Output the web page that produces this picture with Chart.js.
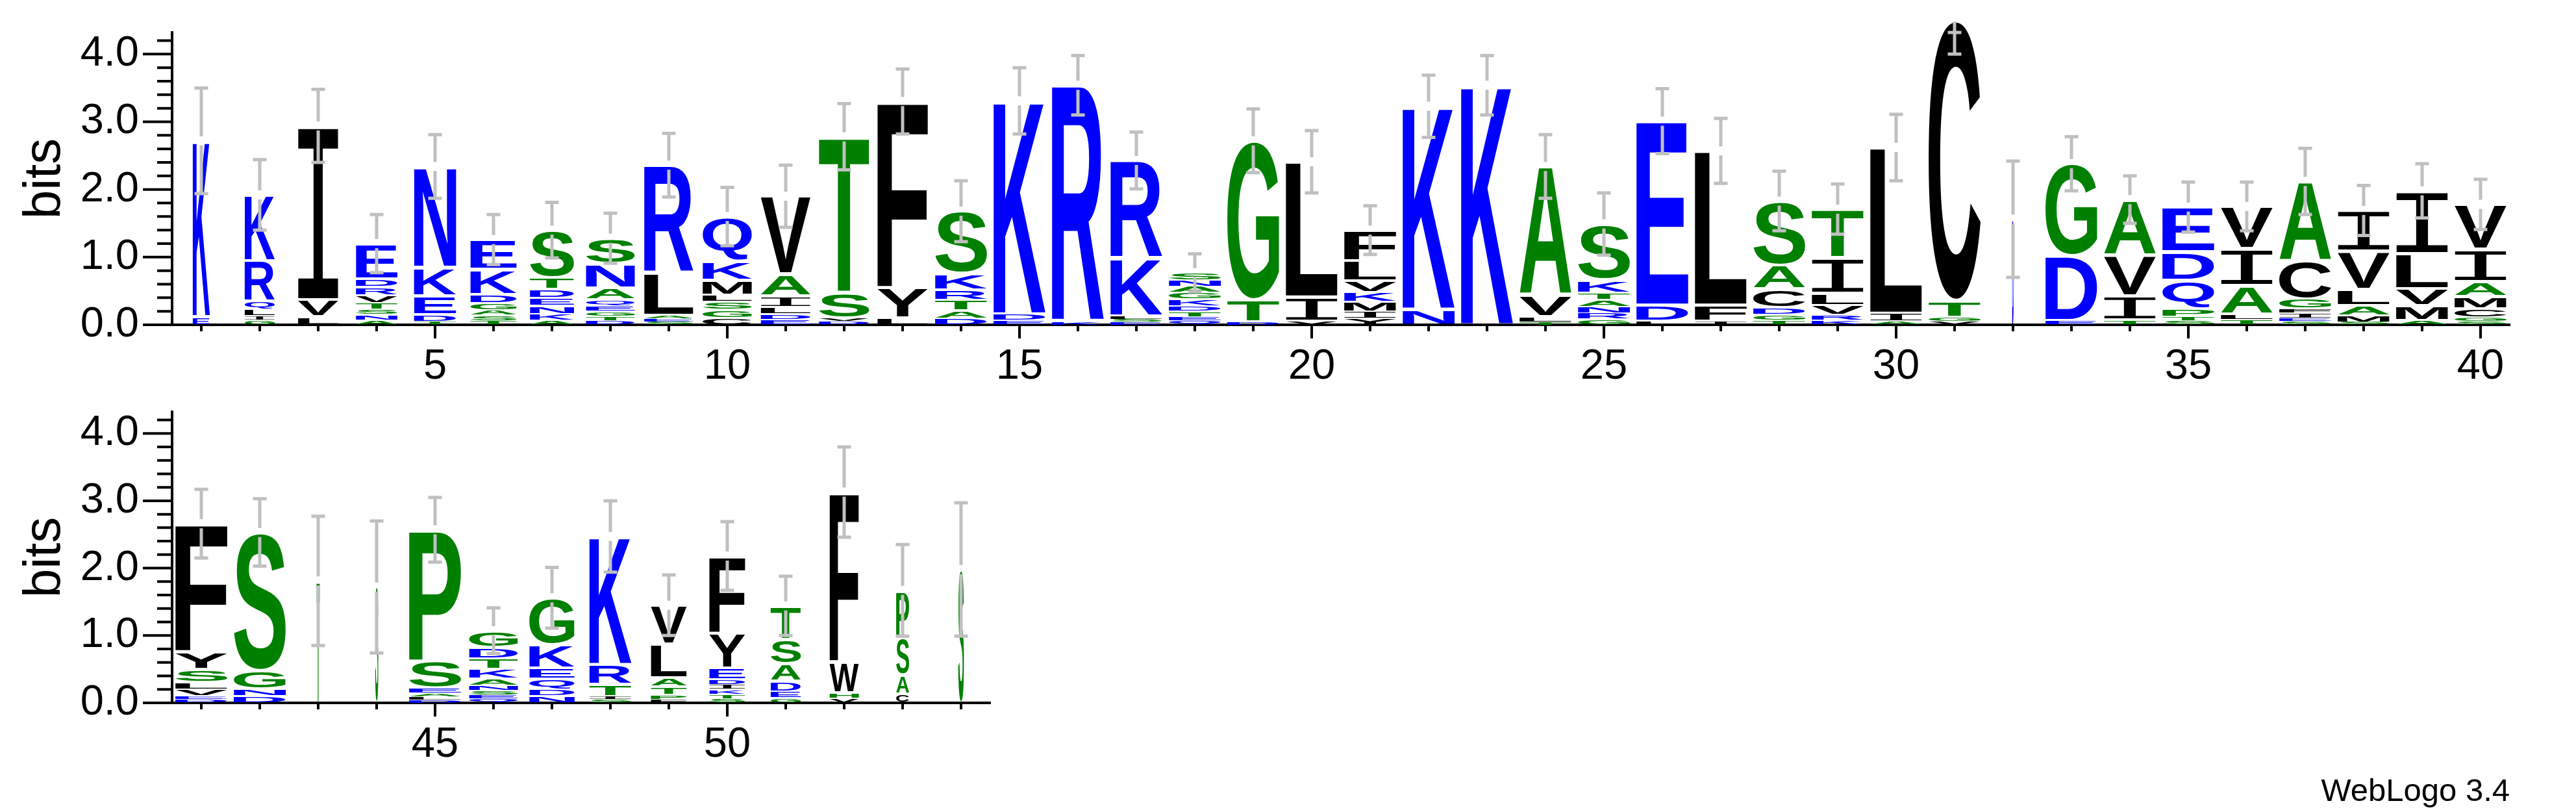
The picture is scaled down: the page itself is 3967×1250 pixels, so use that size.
<!DOCTYPE html>
<html><head><meta charset="utf-8">
<script src="https://cdn.jsdelivr.net/npm/chart.js@4.4.1/dist/chart.umd.min.js"></script>
<style>
html,body{margin:0;padding:0;background:#fff;}
#wrap{position:relative;width:3967px;height:1250px;background:#fff;overflow:hidden;}
canvas{position:absolute;left:0;}
</style></head><body>
<div id="wrap">
<canvas id="row1" width="3967" height="620" style="top:0;width:3967px;height:620px"></canvas>
<canvas id="row2" width="3967" height="630" style="top:620px;width:3967px;height:630px"></canvas>
</div>
<script>
const positions = Array.from({length: 54}, (_, i) => i + 1);
// letters of each stack, bottom -> top
const stackLetters = [
 "EK","GILQRK","LVI","ANSTVRDE","TDEKN","TSAGDKE","AKNEDTS","DTGEQANS","SEALR","CGSLMKQ",
 "EDLIAV","DVST","LYF","DATRKS","EDK","KR","ESLKR","QETDKGANS","DTG","VIL",
 "YIMKVLF","NK","K","TLVA","GRNATKS","LDE","IFL","TGDCAS","KRVLIT","AIL",
 "VGTC","D","EDG","TIVA","STPQDE","TLAIV","SEIFGCA","SMALVI","AMVLI","SGCMAIV",
 "DEVLSYF","DNGS","T","S","DLAESP","QESNAKTDG","NDQEKG","SITRK","FPTALV","STKIDEYF",
 "GEDAST","VHWF","CASP","S"
];
// letter heights in bits, same order
const stackHeights = [
 [0.12,2.60],[0.07,0.06,0.09,0.13,0.60,0.97],[0.12,0.25,2.57],[0.07,0.08,0.08,0.09,0.12,0.12,0.12,0.52],
 [0.05,0.10,0.28,0.42,1.49],[0.06,0.08,0.08,0.10,0.13,0.37,0.44],[0.07,0.09,0.12,0.12,0.13,0.17,0.70],
 [0.06,0.07,0.07,0.08,0.09,0.17,0.36,0.38],[0.04,0.05,0.05,0.62,1.60],[0.10,0.12,0.12,0.10,0.22,0.28,0.66],
 [0.08,0.08,0.10,0.17,0.32,1.15],[0.05,0.05,0.38,2.30],[0.10,0.45,2.75],[0.09,0.12,0.16,0.14,0.25,0.92],
 [0.07,0.09,3.15],[0.04,3.50],[0.04,0.04,0.05,0.85,1.45],[0.06,0.06,0.08,0.08,0.10,0.10,0.09,0.09,0.11],
 [0.04,0.33,2.35],[0.05,0.36,2.00],[0.09,0.10,0.15,0.14,0.17,0.30,0.45],[0.23,3.00],[3.54],
 [0.04,0.08,0.32,1.90],[0.08,0.09,0.10,0.10,0.10,0.20,0.82],[0.05,0.24,2.72],[0.05,0.24,2.28],
 [0.07,0.08,0.10,0.28,0.35,0.95],[0.07,0.08,0.14,0.18,0.52,0.72],[0.05,0.12,2.45],[0.05,0.06,0.25,4.14],
 [1.56],[0.06,0.96,1.36],[0.07,0.36,0.60,0.82],[0.06,0.06,0.12,0.42,0.42,0.66],[0.08,0.08,0.42,0.55,0.62],
 [0.05,0.05,0.07,0.07,0.14,0.56,1.18],[0.04,0.10,0.14,0.24,0.57,0.60],[0.06,0.22,0.25,0.52,0.93],
 [0.05,0.06,0.13,0.18,0.22,0.48,0.66],[0.05,0.05,0.10,0.10,0.20,0.26,1.90],[0.10,0.10,0.28,2.05],
 [1.81],[1.72],[0.04,0.05,0.05,0.08,0.40,1.95],[0.06,0.06,0.06,0.08,0.10,0.14,0.16,0.16,0.25],
 [0.10,0.10,0.16,0.16,0.34,0.70],[0.05,0.05,0.17,0.30,1.90],[0.05,0.07,0.12,0.13,0.50,0.58],
 [0.06,0.07,0.07,0.07,0.08,0.17,0.52,1.14],[0.07,0.10,0.15,0.26,0.36,0.50],[0.07,0.08,0.46,2.52],
 [0.13,0.28,0.56,0.70],[1.98]
];
// relative stack widths (fraction of non-gap sequences)
const stackWidths = [
 0.33,0.58,0.78,0.80,0.81,0.89,0.85,0.94,0.95,0.95,
 0.96,0.97,0.97,1,1,1,1,1,1,1,
 1,1,1,1,1,1,1,1,1,1,
 1,0.03,1,1,1,1,1,1,1,1,
 1,1,0.06,0.06,1,0.94,0.87,0.81,0.69,0.69,
 0.58,0.56,0.25,0.11
];
// error bar half-lengths in bits
const errorHalf = [
 0.78,0.52,0.54,0.43,0.47,0.37,0.41,0.37,0.47,0.43,
 0.46,0.49,0.48,0.45,0.49,0.44,0.42,0.28,0.47,0.46,
 0.36,0.46,0.44,0.47,0.46,0.48,0.48,0.44,0.37,0.49,
 0.50,0.86,0.40,0.35,0.37,0.36,0.49,0.37,0.40,0.37,
 0.51,0.50,0.96,0.98,0.48,0.34,0.45,0.53,0.45,0.51,
 0.44,0.67,0.68,0.99
];
const yTickValues = [0, 1, 2, 3, 4];
const Y_MAX = 4.32; // log2(20)

const FONT = '"Liberation Sans", Arial, Helvetica, sans-serif';
function colorOf(ch) {
  if ('RKDENQ'.includes(ch)) return '#0000FF';
  if ('SGHTAP'.includes(ch)) return '#008000';
  return '#000000';
}
const measureCache = {};
function glyphFont(ch) {
  return ch === 'I' ? 'normal 200px "Liberation Mono", "DejaVu Sans Mono", monospace'
                    : 'bold 200px "Liberation Sans", Arial, sans-serif';
}
function drawGlyph(ctx, ch, x, y, w, h) {
  if (w <= 0 || h <= 0) return;
  ctx.save();
  ctx.font = glyphFont(ch);
  ctx.textAlign = 'left';
  ctx.textBaseline = 'alphabetic';
  let m = measureCache[ch];
  if (!m) {
    const t = ctx.measureText(ch);
    m = measureCache[ch] = {l: t.actualBoundingBoxLeft, r: t.actualBoundingBoxRight,
                            a: t.actualBoundingBoxAscent, d: t.actualBoundingBoxDescent};
  }
  const gw = m.l + m.r, gh = m.a + m.d;
  ctx.translate(x, y);
  ctx.scale(w / gw, h / gh);
  ctx.fillStyle = colorOf(ch);
  ctx.fillText(ch, m.l, m.a);
  ctx.restore();
}

function zeroPad(s) { s.paddingTop = 0; s.paddingBottom = 0; s.paddingLeft = 0; s.paddingRight = 0; }

function makeRow(canvasId, from, to, lay) {
  const labels = positions.slice(from, to);
  const L = stackLetters.slice(from, to);
  const H = stackHeights.slice(from, to);
  const W = stackWidths.slice(from, to);
  const E = errorHalf.slice(from, to);
  const depth = Math.max(...L.map(s => s.length));
  const datasets = [];
  for (let k = 0; k < depth; k++) {
    datasets.push({
      data: H.map(h => (h[k] !== undefined ? h[k] : 0)),
      backgroundColor: 'rgba(0,0,0,0)', borderWidth: 0,
      categoryPercentage: 1, barPercentage: 80 / 90, stack: 'logo', clip: false
    });
  }
  const logoPlugin = {
    id: 'logo' + canvasId,
    afterDatasetsDraw(chart) {
      const ctx = chart.ctx;
      const xs = chart.scales.x, ys = chart.scales.y;
      for (let k = 0; k < depth; k++) {
        const meta = chart.getDatasetMeta(k);
        meta.data.forEach((el, i) => {
          const ch = L[i][k];
          if (!ch) return;
          const p = el.getProps(['x', 'y', 'base', 'width'], true);
          const top = Math.min(p.y, p.base), bot = Math.max(p.y, p.base);
          const h = bot - top;
          if (h <= 0) return;
          const pad = Math.min(2.5, h * 0.12);
          const w = p.width * W[i];
          drawGlyph(ctx, ch, p.x - w / 2, top + pad, w, h - 2 * pad);
        });
      }
      // error bars
      ctx.save();
      ctx.strokeStyle = '#C0C0C0';
      ctx.lineWidth = 5;
      ctx.lineCap = 'butt';
      labels.forEach((lab, i) => {
        const total = H[i].reduce((a, b) => a + b, 0);
        const xp = xs.getPixelForValue(i);
        const clipped = total + E[i] > Y_MAX;
        const yHi = ys.getPixelForValue(Math.min(total + E[i], Y_MAX));
        const yC = ys.getPixelForValue(total);
        const yLo = ys.getPixelForValue(total - E[i]);
        ctx.beginPath();
        if (clipped) {
          ctx.moveTo(xp, yC + 2); ctx.lineTo(xp, yLo);
        } else {
          ctx.moveTo(xp, yHi); ctx.lineTo(xp, yC - 7);
          ctx.moveTo(xp, yC + 7); ctx.lineTo(xp, yLo);
        }
        ctx.moveTo(xp - 10.5, yHi); ctx.lineTo(xp + 10.5, yHi);
        ctx.moveTo(xp - 10.5, yLo); ctx.lineTo(xp + 10.5, yLo);
        ctx.stroke();
      });
      ctx.restore();
    },
    afterDraw(chart) {
      const ctx = chart.ctx;
      const xs = chart.scales.x, ys = chart.scales.y;
      const ca = chart.chartArea;
      ctx.save();
      ctx.strokeStyle = '#000';
      ctx.lineWidth = 4;
      ctx.beginPath();
      for (let j = 0; j * 0.2 <= Y_MAX - 0.1; j++) {
        const v = j / 5;
        const yp = ys.getPixelForValue(v);
        const len = (j % 5 === 0) ? 45 : 23;
        ctx.moveTo(ca.left - len, yp); ctx.lineTo(ca.left, yp);
      }
      labels.forEach((lab, i) => {
        const xp = xs.getPixelForValue(i);
        const len = (lab % 5 === 0) ? 21 : 10;
        ctx.moveTo(xp, ca.bottom); ctx.lineTo(xp, ca.bottom + len);
      });
      ctx.stroke();
      if (lay.credit) {
        ctx.fillStyle = '#000';
        ctx.font = '49px ' + FONT;
        ctx.textAlign = 'right';
        ctx.textBaseline = 'alphabetic';
        ctx.fillText(lay.credit, 3865, lay.creditY);
      }
      ctx.restore();
    }
  };
  return new Chart(document.getElementById(canvasId), {
    type: 'bar',
    data: {labels: labels.map(String), datasets},
    options: {
      responsive: false, animation: false, events: [],
      layout: {padding: {top: lay.top, right: lay.right, left: 0, bottom: 0}},
      plugins: {legend: {display: false}, tooltip: {enabled: false}, title: {display: false}},
      scales: {
        x: {
          type: 'category', stacked: true, offset: true,
          grid: {display: false, drawTicks: false},
          border: {display: true, color: '#000', width: 4},
          ticks: {
            autoSkip: false, maxRotation: 0, minRotation: 0, padding: 26, color: '#000',
            font: {family: FONT, size: 65},
            callback(v, i) { const lab = labels[i]; return lab % 5 === 0 ? String(lab) : ''; }
          },
          afterFit(s) { s.height = lay.xh; zeroPad(s); }
        },
        y: {
          type: 'linear', stacked: true, min: 0, max: Y_MAX,
          grid: {display: false, drawTicks: false},
          border: {display: true, color: '#000', width: 4},
          afterBuildTicks(s) { s.ticks = yTickValues.map(v => ({value: v})); },
          ticks: {padding: 51, color: '#000', font: {family: FONT, size: 65},
                  callback: v => Number(v).toFixed(1)},
          title: {display: true, text: 'bits', color: '#000', font: {family: FONT, size: 80},
                  padding: {top: 22, bottom: 22}},
          afterFit(s) { s.width = 265; zeroPad(s); }
        }
      }
    },
    plugins: [logoPlugin]
  });
}

makeRow('row1', 0, 40, {top: 50, right: 102, xh: 120});
makeRow('row2', 40, 54, {top: 14, right: 3967 - 1525, xh: 168, credit: 'WebLogo 3.4', creditY: 613});
</script>
</body></html>
